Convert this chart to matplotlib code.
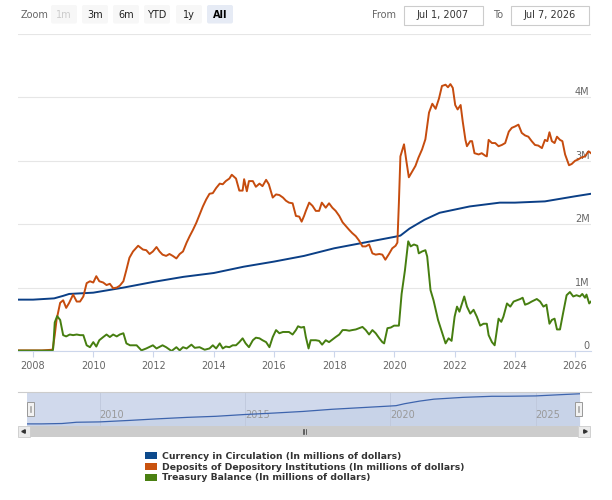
import matplotlib
matplotlib.use('Agg')
import matplotlib.pyplot as plt
from matplotlib.patches import Rectangle, FancyBboxPatch, Patch

# values are in millions of dollars, expressed in "M" (1M = 1,000,000 million)
cur_t = [2007.5, 2008.0, 2008.7, 2009.0, 2009.2, 2010.0, 2011.0, 2012.0, 2013.0, 2014.0,
         2015.0, 2016.0, 2017.0, 2018.0, 2019.0, 2020.0, 2020.2, 2020.5, 2021.0, 2021.5,
         2022.0, 2022.5, 2023.0, 2023.5, 2024.0, 2025.0, 2025.5, 2026.0, 2026.53]
cur_v = [0.81, 0.81, 0.83, 0.87, 0.90, 0.92, 1.00, 1.09, 1.17, 1.23,
         1.33, 1.41, 1.50, 1.62, 1.71, 1.80, 1.82, 1.93, 2.07, 2.18,
         2.23, 2.28, 2.31, 2.34, 2.34, 2.36, 2.40, 2.44, 2.48]

dep_t = [2007.5, 2008.0, 2008.3, 2008.65, 2008.72, 2008.78, 2008.9, 2009.0, 2009.1, 2009.2,
         2009.33, 2009.45, 2009.56, 2009.67, 2009.78, 2009.89, 2010.0, 2010.1, 2010.2, 2010.33,
         2010.44, 2010.55, 2010.66, 2010.78, 2010.88, 2011.0, 2011.1, 2011.2, 2011.32, 2011.49,
         2011.65, 2011.76, 2011.87, 2011.98, 2012.1, 2012.2, 2012.3, 2012.42, 2012.53, 2012.64,
         2012.76, 2012.87, 2012.98, 2013.1, 2013.2, 2013.31, 2013.42, 2013.53, 2013.64, 2013.75,
         2013.86, 2013.97, 2014.08, 2014.2, 2014.3, 2014.4, 2014.52, 2014.6, 2014.74, 2014.85,
         2014.96, 2015.01, 2015.1, 2015.17, 2015.3, 2015.4, 2015.52, 2015.62, 2015.74, 2015.83,
         2015.96, 2016.07, 2016.18, 2016.3, 2016.4, 2016.5, 2016.62, 2016.73, 2016.84, 2016.92,
         2017.0, 2017.06, 2017.17, 2017.28, 2017.39, 2017.5, 2017.59, 2017.72, 2017.83, 2017.94,
         2018.05, 2018.17, 2018.28, 2018.39, 2018.5, 2018.6, 2018.72, 2018.83, 2018.94, 2019.05,
         2019.16, 2019.27, 2019.38, 2019.5, 2019.6, 2019.7, 2019.82, 2019.93, 2020.04, 2020.1,
         2020.15, 2020.2, 2020.32, 2020.4, 2020.48, 2020.6, 2020.7, 2020.8, 2020.92, 2021.03,
         2021.15, 2021.26, 2021.37, 2021.48, 2021.58, 2021.7, 2021.78, 2021.86, 2021.94, 2022.02,
         2022.1, 2022.2, 2022.27, 2022.36, 2022.41, 2022.52, 2022.58, 2022.66, 2022.8, 2022.9,
         2023.02, 2023.07, 2023.13, 2023.24, 2023.35, 2023.46, 2023.57, 2023.68, 2023.8, 2023.9,
         2024.0, 2024.12, 2024.23, 2024.34, 2024.45, 2024.56, 2024.67, 2024.78, 2024.9, 2025.0,
         2025.08, 2025.15, 2025.23, 2025.32, 2025.4, 2025.5, 2025.58, 2025.67, 2025.8, 2025.89,
         2026.0, 2026.1, 2026.2, 2026.33, 2026.45, 2026.53]
dep_v = [0.01, 0.01, 0.01, 0.02, 0.25, 0.49, 0.76, 0.80, 0.68, 0.76,
         0.89, 0.78, 0.78, 0.86, 1.07, 1.10, 1.08, 1.18, 1.10, 1.08,
         1.04, 1.06, 0.99, 1.00, 1.03, 1.10, 1.28, 1.47, 1.57, 1.66,
         1.60, 1.59, 1.53, 1.57, 1.64, 1.57, 1.52, 1.50, 1.53, 1.50,
         1.46, 1.53, 1.57, 1.71, 1.81, 1.91, 2.02, 2.15, 2.28, 2.39,
         2.48, 2.49, 2.57, 2.64, 2.63, 2.68, 2.72, 2.78, 2.72, 2.53,
         2.53, 2.71, 2.52, 2.68, 2.68, 2.59, 2.64, 2.60, 2.70, 2.63,
         2.42, 2.47, 2.46, 2.42, 2.37, 2.34, 2.33, 2.13, 2.12, 2.04,
         2.13, 2.21, 2.34, 2.29, 2.21, 2.21, 2.34, 2.26, 2.33, 2.26,
         2.21, 2.13, 2.03, 1.97, 1.91, 1.86, 1.81, 1.74, 1.65, 1.65,
         1.68, 1.54, 1.52, 1.53, 1.52, 1.44, 1.53, 1.62, 1.66, 1.71,
         2.34, 3.07, 3.26, 2.99, 2.74, 2.84, 2.92, 3.05, 3.18, 3.34,
         3.76, 3.90, 3.82, 3.98, 4.18, 4.20, 4.16, 4.21, 4.15, 3.88,
         3.81, 3.88, 3.62, 3.33, 3.23, 3.31, 3.31, 3.12, 3.10, 3.12,
         3.08, 3.07, 3.33, 3.28, 3.28, 3.23, 3.25, 3.28, 3.46, 3.52,
         3.54, 3.57, 3.44, 3.40, 3.38, 3.31, 3.25, 3.24, 3.20, 3.33,
         3.31, 3.45, 3.31, 3.28, 3.38, 3.33, 3.31, 3.10, 2.93, 2.95,
         3.00, 3.02, 3.05, 3.07, 3.15, 3.12]

tre_t = [2007.5, 2008.65, 2008.67, 2008.72, 2008.8, 2008.9, 2009.0, 2009.1, 2009.22, 2009.33,
         2009.45, 2009.56, 2009.67, 2009.78, 2009.89, 2010.0, 2010.1, 2010.2, 2010.33, 2010.44,
         2010.55, 2010.66, 2010.78, 2010.88, 2011.0, 2011.1, 2011.22, 2011.33, 2011.44, 2011.6,
         2011.76, 2011.98, 2012.1, 2012.3, 2012.42, 2012.6, 2012.76, 2012.87, 2012.98, 2013.1,
         2013.26, 2013.37, 2013.53, 2013.7, 2013.86, 2013.97, 2014.08, 2014.2, 2014.3, 2014.4,
         2014.52, 2014.63, 2014.74, 2014.85, 2014.96, 2015.06, 2015.17, 2015.3, 2015.4, 2015.52,
         2015.62, 2015.74, 2015.85, 2015.96, 2016.07, 2016.18, 2016.3, 2016.4, 2016.5, 2016.62,
         2016.73, 2016.8, 2016.9, 2017.0, 2017.06, 2017.15, 2017.22, 2017.39, 2017.5, 2017.6,
         2017.72, 2017.83, 2017.94, 2018.05, 2018.17, 2018.28, 2018.39, 2018.5, 2018.6, 2018.72,
         2018.83, 2018.94, 2019.05, 2019.16, 2019.27, 2019.38, 2019.5, 2019.6, 2019.66, 2019.77,
         2019.88, 2019.99, 2020.1, 2020.15, 2020.24, 2020.35, 2020.46, 2020.54, 2020.65, 2020.76,
         2020.81, 2020.92, 2021.03, 2021.09, 2021.2, 2021.3, 2021.45, 2021.58, 2021.7, 2021.8,
         2021.9, 2022.0, 2022.08, 2022.16, 2022.32, 2022.41, 2022.52, 2022.63, 2022.74, 2022.85,
         2022.96, 2023.07, 2023.13, 2023.24, 2023.33, 2023.46, 2023.55, 2023.62, 2023.74, 2023.85,
         2023.96, 2024.07, 2024.18, 2024.26, 2024.34, 2024.45, 2024.56, 2024.73, 2024.84, 2024.95,
         2025.05, 2025.15, 2025.23, 2025.32, 2025.4, 2025.5, 2025.6, 2025.72, 2025.83, 2025.94,
         2026.05, 2026.16, 2026.24, 2026.33, 2026.38, 2026.47, 2026.53]
tre_v = [0.005, 0.005, 0.05, 0.45, 0.55, 0.49, 0.25, 0.23, 0.26, 0.25,
         0.26, 0.25, 0.25, 0.09, 0.06, 0.14, 0.07, 0.17, 0.22, 0.26,
         0.22, 0.26, 0.23, 0.26, 0.28, 0.12, 0.09, 0.09, 0.09, 0.01,
         0.04, 0.09, 0.04, 0.09, 0.06, 0.00, 0.06, 0.01, 0.06, 0.04,
         0.10, 0.05, 0.06, 0.02, 0.04, 0.09, 0.04, 0.12, 0.04, 0.07,
         0.06, 0.09, 0.09, 0.14, 0.20, 0.12, 0.06, 0.17, 0.21, 0.20,
         0.17, 0.14, 0.06, 0.22, 0.33, 0.28, 0.30, 0.30, 0.30, 0.26,
         0.33, 0.39, 0.37, 0.38, 0.22, 0.04, 0.17, 0.17, 0.16, 0.10,
         0.17, 0.14, 0.18, 0.22, 0.26, 0.33, 0.33, 0.32, 0.33, 0.34,
         0.36, 0.38, 0.33, 0.26, 0.33, 0.28, 0.20, 0.14, 0.12, 0.36,
         0.37, 0.40, 0.40, 0.40, 0.90, 1.27, 1.73, 1.65, 1.68, 1.66,
         1.54, 1.57, 1.59, 1.49, 0.96, 0.80, 0.49, 0.30, 0.12, 0.20,
         0.16, 0.54, 0.70, 0.62, 0.86, 0.70, 0.59, 0.65, 0.54, 0.40,
         0.43, 0.43, 0.25, 0.14, 0.09, 0.51, 0.46, 0.54, 0.75, 0.70,
         0.78, 0.80, 0.82, 0.84, 0.73, 0.75, 0.78, 0.82, 0.78, 0.70,
         0.73, 0.43, 0.49, 0.51, 0.34, 0.34, 0.59, 0.88, 0.93, 0.86,
         0.88, 0.86, 0.90, 0.84, 0.89, 0.75, 0.78]

names = ['Currency in Circulation (In millions of dollars)',
         'Deposits of Depository Institutions (In millions of dollars)',
         'Treasury Balance (In millions of dollars)']
colors = ['#0b3f86', '#c64c0e', '#467e10']
legend_colors = ['#0d4a8c', '#c9520e', '#4a8012']

x_range = (2007.5, 2026.53)
year_ticks = [2008, 2010, 2012, 2014, 2016, 2018, 2020, 2022, 2024, 2026]
nav_ticks = [2010, 2015, 2020, 2025]
y_ticks = [0, 1, 2, 3, 4, 5]
y_labels = ['0', '1M', '2M', '3M', '4M', '']
zoom_buttons = ['1m', '3m', '6m', 'YTD', '1y', 'All']
from_date = 'Jul 1, 2007'
to_date = 'Jul 7, 2026'

W, H = 612, 500


def box(left, top, w, h):
    # pixel box (from top-left) -> figure fraction
    return [left / W, (H - top - h) / H, w / W, h / H]


fig = plt.figure(figsize=(W / 100, H / 100), dpi=100)

# overlay for the range selector, scrollbar etc. (pixel coordinates)
ui = fig.add_axes([0, 0, 1, 1])
ui.set_xlim(0, W)
ui.set_ylim(H, 0)
ui.axis('off')

ui.text(21, 14.5, 'Zoom', fontsize=7, color='#666666', va='center', ha='left')
btn_left = [51, 82, 113, 144, 176, 207]
for lbl, bx in zip(zoom_buttons, btn_left):
    if lbl == '1m':
        fc, tc, fw = '#f7f7f7', '#cccccc', 'normal'
    elif lbl == 'All':
        fc, tc, fw = '#e6ebf5', '#000000', 'bold'
    else:
        fc, tc, fw = '#f7f7f7', '#222222', 'normal'
    ui.add_patch(FancyBboxPatch((bx, 5), 26, 18.5, boxstyle='round,pad=0,rounding_size=2',
                                fc=fc, ec='none'))
    ui.text(bx + 13, 14.5, lbl, fontsize=7, color=tc, fontweight=fw, ha='center', va='center')

ui.text(384, 15, 'From', fontsize=7, color='#666666', ha='center', va='center')
ui.add_patch(Rectangle((403.5, 5.5), 79, 19, fc='white', ec='#cccccc', lw=0.8))
ui.text(443, 15, from_date, fontsize=7, color='#333333', ha='center', va='center')
ui.text(498, 15, 'To', fontsize=7, color='#666666', ha='center', va='center')
ui.add_patch(Rectangle((510.5, 5.5), 78, 19, fc='white', ec='#cccccc', lw=0.8))
ui.text(549.5, 15, to_date, fontsize=7, color='#333333', ha='center', va='center')

# navigator outline and scrollbar
ui.plot([18, 591], [392, 392], color='#cccccc', lw=0.8)
ui.add_patch(Rectangle((18, 425.5), 573, 11.5, fc='#f2f2f2', ec='none'))
ui.add_patch(Rectangle((30, 425.5), 548, 11.5, fc='#cccccc', ec='none'))
ui.add_patch(Rectangle((18, 425.5), 12, 11.5, fc='#ebebeb', ec='#cccccc', lw=0.6))
ui.add_patch(Rectangle((578, 425.5), 12, 11.5, fc='#ebebeb', ec='#cccccc', lw=0.6))
ui.plot([23], [431.2], marker='<', ms=2.5, color='#333333')
ui.plot([585], [431.2], marker='>', ms=2.5, color='#333333')
for gx in (302.5, 304, 305.5):
    ui.plot([gx, gx], [429, 433.5], color='#333333', lw=0.5)

# main chart
ax = fig.add_axes(box(18, 34, 573, 317))
ax.set_facecolor('none')
for t, v, c in zip([cur_t, dep_t, tre_t], [cur_v, dep_v, tre_v], colors):
    ax.plot(t, v, color=c, lw=1.4, solid_joinstyle='round')
ax.set_xlim(*x_range)
ax.set_ylim(0, 5)
ax.set_xticks(year_ticks)
ax.set_xticklabels([str(y) for y in year_ticks])
ax.set_yticks(y_ticks)
ax.set_yticklabels(y_labels)
ax.yaxis.tick_right()
ax.tick_params(axis='y', length=0, pad=-1, labelsize=7, labelcolor='#666666')
for lbl in ax.get_yticklabels():
    lbl.set_ha('right')
    lbl.set_va('bottom')
ax.tick_params(axis='x', length=4, width=0.8, color='#ccd6eb', labelsize=7,
               labelcolor='#666666', pad=3)
ax.grid(axis='y', color='#e6e6e6', lw=0.8)
ax.set_axisbelow(True)
for s in ['top', 'left', 'right']:
    ax.spines[s].set_visible(False)
ax.spines['bottom'].set_color('#ccd6eb')
ax.spines['bottom'].set_linewidth(0.8)

# navigator
nav = fig.add_axes(box(27, 392.5, 553, 33))
nav.set_facecolor('#d0d9ec')
nav.fill_between(cur_t, cur_v, 0, color='#3d64ad', alpha=0.05, lw=0)
nav.plot(cur_t, cur_v, color='#3d64ad', lw=0.9)
nav.set_xlim(*x_range)
nav.set_ylim(0.72, 2.55)
nav.set_xticks(nav_ticks)
nav.set_xticklabels([str(y) for y in nav_ticks])
nav.set_yticks([])
nav.grid(axis='x', color='#bfc8dc', lw=0.6)
nav.tick_params(axis='x', length=0, pad=-11, labelsize=7, labelcolor='#999999')
for lbl in nav.get_xticklabels():
    lbl.set_ha('left')
for s in nav.spines.values():
    s.set_visible(False)

for hx in (27, 575):
    ui.add_patch(Rectangle((hx, 402), 6.5, 13.5, fc='#f2f2f2', ec='#999999', lw=0.7, zorder=5))
    ui.plot([hx + 2.6, hx + 2.6], [405.5, 412], color='#999999', lw=0.5, zorder=6)
    ui.plot([hx + 3.9, hx + 3.9], [405.5, 412], color='#999999', lw=0.5, zorder=6)
ui.set_zorder(3)
ui.patch.set_visible(False)

# legend
handles = [Patch(fc=c, ec='none') for c in legend_colors]
fig.legend(handles, names, loc='upper left', bbox_to_anchor=(145 / W, 1 - 452 / H),
           frameon=False, handlelength=1.25, handleheight=0.78,
           handletextpad=0.6, labelspacing=0.18, borderpad=0, borderaxespad=0,
           prop={'weight': 'bold', 'size': 6.7})
for txt in fig.legends[0].get_texts():
    txt.set_color('#333333')

fig.savefig('out.png', dpi=100)
